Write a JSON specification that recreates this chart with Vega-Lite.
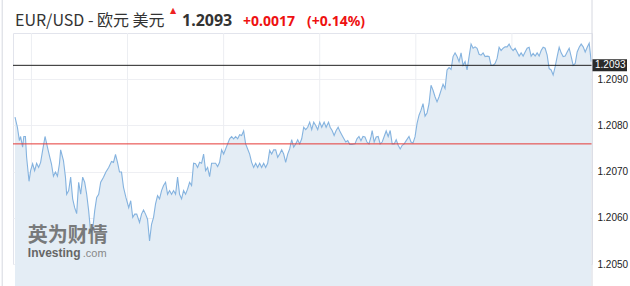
{
  "$schema": "https://vega.github.io/schema/vega-lite/v6.json",
  "width": 579,
  "height": 231,
  "autosize": "none",
  "padding": {"left": 13, "top": 33, "right": 38, "bottom": 22},
  "background": "#ffffff",
  "config": {
    "view": {"stroke": "#e2e4ec"},
    "axis": {"gridColor": "#eeeff3", "domain": false, "ticks": false, "labelFont": "Liberation Sans", "labelColor": "#222"}
  },
  "data": {"values": [
    {"t":"2021-01-18T15:19","v":1.20818},{"t":"2021-01-18T15:25","v":1.20796},{"t":"2021-01-18T15:30","v":1.20767},{"t":"2021-01-18T15:33","v":1.20776},{"t":"2021-01-18T15:38","v":1.20753},{"t":"2021-01-18T15:41","v":1.20776},{"t":"2021-01-18T15:45","v":1.20776},{"t":"2021-01-18T15:48","v":1.20731},{"t":"2021-01-18T15:54","v":1.20679},{"t":"2021-01-18T15:58","v":1.20702},
    {"t":"2021-01-18T16:03","v":1.20717},{"t":"2021-01-18T16:08","v":1.20702},{"t":"2021-01-18T16:13","v":1.20718},{"t":"2021-01-18T16:18","v":1.20709},{"t":"2021-01-18T16:23","v":1.20720},{"t":"2021-01-18T16:28","v":1.20746},{"t":"2021-01-18T16:34","v":1.20776},{"t":"2021-01-18T16:40","v":1.20753},{"t":"2021-01-18T16:46","v":1.20731},{"t":"2021-01-18T16:50","v":1.20717},{"t":"2021-01-18T16:55","v":1.20690},
    {"t":"2021-01-18T17:00","v":1.20699},{"t":"2021-01-18T17:05","v":1.20690},{"t":"2021-01-18T17:10","v":1.20717},{"t":"2021-01-18T17:13","v":1.20747},{"t":"2021-01-18T17:20","v":1.20724},{"t":"2021-01-18T17:25","v":1.20688},{"t":"2021-01-18T17:28","v":1.20651},{"t":"2021-01-18T17:33","v":1.20659},{"t":"2021-01-18T17:38","v":1.20688},{"t":"2021-01-18T17:43","v":1.20641},{"t":"2021-01-18T17:48","v":1.20622},{"t":"2021-01-18T17:53","v":1.20609},{"t":"2021-01-18T17:58","v":1.20677},
    {"t":"2021-01-18T18:03","v":1.20651},{"t":"2021-01-18T18:08","v":1.20688},{"t":"2021-01-18T18:13","v":1.20677},{"t":"2021-01-18T18:18","v":1.20651},{"t":"2021-01-18T18:23","v":1.20615},{"t":"2021-01-18T18:28","v":1.20568},{"t":"2021-01-18T18:33","v":1.20575},{"t":"2021-01-18T18:38","v":1.20615},{"t":"2021-01-18T18:43","v":1.20644},{"t":"2021-01-18T18:48","v":1.20651},{"t":"2021-01-18T18:53","v":1.20677},
    {"t":"2021-01-18T19:00","v":1.20688},{"t":"2021-01-18T19:06","v":1.20699},{"t":"2021-01-18T19:13","v":1.20709},{"t":"2021-01-18T19:20","v":1.20722},{"t":"2021-01-18T19:25","v":1.20720},{"t":"2021-01-18T19:30","v":1.20737},{"t":"2021-01-18T19:35","v":1.20720},{"t":"2021-01-18T19:40","v":1.20699},{"t":"2021-01-18T19:45","v":1.20699},{"t":"2021-01-18T19:50","v":1.20666},{"t":"2021-01-18T19:56","v":1.20644},
    {"t":"2021-01-18T20:03","v":1.20622},{"t":"2021-01-18T20:08","v":1.20637},{"t":"2021-01-18T20:13","v":1.20601},{"t":"2021-01-18T20:18","v":1.20608},{"t":"2021-01-18T20:23","v":1.20608},{"t":"2021-01-18T20:30","v":1.20590},{"t":"2021-01-18T20:35","v":1.20608},{"t":"2021-01-18T20:40","v":1.20617},{"t":"2021-01-18T20:45","v":1.20608},{"t":"2021-01-18T20:50","v":1.20597},{"t":"2021-01-18T20:55","v":1.20550},
    {"t":"2021-01-18T21:00","v":1.20586},{"t":"2021-01-18T21:05","v":1.20601},{"t":"2021-01-18T21:10","v":1.20630},{"t":"2021-01-18T21:15","v":1.20648},{"t":"2021-01-18T21:20","v":1.20641},{"t":"2021-01-18T21:25","v":1.20659},{"t":"2021-01-18T21:30","v":1.20670},{"t":"2021-01-18T21:35","v":1.20677},{"t":"2021-01-18T21:40","v":1.20651},{"t":"2021-01-18T21:45","v":1.20659},{"t":"2021-01-18T21:50","v":1.20651},{"t":"2021-01-18T21:55","v":1.20659},
    {"t":"2021-01-18T22:00","v":1.20651},{"t":"2021-01-18T22:05","v":1.20688},{"t":"2021-01-18T22:10","v":1.20651},{"t":"2021-01-18T22:15","v":1.20641},{"t":"2021-01-18T22:20","v":1.20659},{"t":"2021-01-18T22:25","v":1.20651},{"t":"2021-01-18T22:30","v":1.20662},{"t":"2021-01-18T22:35","v":1.20677},{"t":"2021-01-18T22:40","v":1.20670},{"t":"2021-01-18T22:45","v":1.20718},{"t":"2021-01-18T22:50","v":1.20717},{"t":"2021-01-18T22:55","v":1.20709},
    {"t":"2021-01-18T23:00","v":1.20720},{"t":"2021-01-18T23:05","v":1.20718},{"t":"2021-01-18T23:10","v":1.20738},{"t":"2021-01-18T23:15","v":1.20702},{"t":"2021-01-18T23:20","v":1.20709},{"t":"2021-01-18T23:25","v":1.20689},{"t":"2021-01-18T23:30","v":1.20718},{"t":"2021-01-18T23:35","v":1.20718},{"t":"2021-01-18T23:40","v":1.20718},{"t":"2021-01-18T23:45","v":1.20711},{"t":"2021-01-18T23:50","v":1.20720},{"t":"2021-01-18T23:55","v":1.20747},
    {"t":"2021-01-19T00:00","v":1.20738},{"t":"2021-01-19T00:05","v":1.20749},{"t":"2021-01-19T00:10","v":1.20760},{"t":"2021-01-19T00:15","v":1.20771},{"t":"2021-01-19T00:20","v":1.20776},{"t":"2021-01-19T00:25","v":1.20771},{"t":"2021-01-19T00:30","v":1.20776},{"t":"2021-01-19T00:35","v":1.20771},{"t":"2021-01-19T00:40","v":1.20780},{"t":"2021-01-19T00:45","v":1.20778},{"t":"2021-01-19T00:50","v":1.20788},{"t":"2021-01-19T00:55","v":1.20760},
    {"t":"2021-01-19T01:00","v":1.20749},{"t":"2021-01-19T01:05","v":1.20738},{"t":"2021-01-19T01:10","v":1.20720},{"t":"2021-01-19T01:15","v":1.20709},{"t":"2021-01-19T01:20","v":1.20718},{"t":"2021-01-19T01:25","v":1.20709},{"t":"2021-01-19T01:30","v":1.20718},{"t":"2021-01-19T01:35","v":1.20709},{"t":"2021-01-19T01:40","v":1.20718},{"t":"2021-01-19T01:45","v":1.20709},{"t":"2021-01-19T01:50","v":1.20718},{"t":"2021-01-19T01:55","v":1.20746},
    {"t":"2021-01-19T02:00","v":1.20738},{"t":"2021-01-19T02:05","v":1.20747},{"t":"2021-01-19T02:10","v":1.20747},{"t":"2021-01-19T02:15","v":1.20731},{"t":"2021-01-19T02:20","v":1.20738},{"t":"2021-01-19T02:25","v":1.20747},{"t":"2021-01-19T02:30","v":1.20738},{"t":"2021-01-19T02:35","v":1.20720},{"t":"2021-01-19T02:40","v":1.20738},{"t":"2021-01-19T02:45","v":1.20749},{"t":"2021-01-19T02:50","v":1.20769},{"t":"2021-01-19T02:55","v":1.20753},
    {"t":"2021-01-19T03:00","v":1.20760},{"t":"2021-01-19T03:05","v":1.20769},{"t":"2021-01-19T03:10","v":1.20760},{"t":"2021-01-19T03:15","v":1.20771},{"t":"2021-01-19T03:20","v":1.20796},{"t":"2021-01-19T03:25","v":1.20791},{"t":"2021-01-19T03:30","v":1.20796},{"t":"2021-01-19T03:35","v":1.20807},{"t":"2021-01-19T03:40","v":1.20791},{"t":"2021-01-19T03:45","v":1.20807},{"t":"2021-01-19T03:50","v":1.20800},{"t":"2021-01-19T03:55","v":1.20791},
    {"t":"2021-01-19T04:00","v":1.20807},{"t":"2021-01-19T04:05","v":1.20796},{"t":"2021-01-19T04:11","v":1.20807},{"t":"2021-01-19T04:16","v":1.20796},{"t":"2021-01-19T04:22","v":1.20807},{"t":"2021-01-19T04:26","v":1.20796},{"t":"2021-01-19T04:31","v":1.20789},{"t":"2021-01-19T04:36","v":1.20778},{"t":"2021-01-19T04:41","v":1.20789},{"t":"2021-01-19T04:46","v":1.20796},{"t":"2021-01-19T04:51","v":1.20786},{"t":"2021-01-19T04:58","v":1.20775},
    {"t":"2021-01-19T05:05","v":1.20764},{"t":"2021-01-19T05:10","v":1.20767},{"t":"2021-01-19T05:15","v":1.20759},{"t":"2021-01-19T05:21","v":1.20759},{"t":"2021-01-19T05:28","v":1.20760},{"t":"2021-01-19T05:33","v":1.20771},{"t":"2021-01-19T05:38","v":1.20776},{"t":"2021-01-19T05:43","v":1.20767},{"t":"2021-01-19T05:48","v":1.20776},{"t":"2021-01-19T05:53","v":1.20775},{"t":"2021-01-19T05:58","v":1.20764},
    {"t":"2021-01-19T06:03","v":1.20760},{"t":"2021-01-19T06:08","v":1.20775},{"t":"2021-01-19T06:11","v":1.20789},{"t":"2021-01-19T06:16","v":1.20764},{"t":"2021-01-19T06:21","v":1.20775},{"t":"2021-01-19T06:26","v":1.20776},{"t":"2021-01-19T06:31","v":1.20760},{"t":"2021-01-19T06:36","v":1.20764},{"t":"2021-01-19T06:41","v":1.20776},{"t":"2021-01-19T06:46","v":1.20788},{"t":"2021-01-19T06:51","v":1.20776},{"t":"2021-01-19T06:56","v":1.20789},
    {"t":"2021-01-19T07:01","v":1.20760},{"t":"2021-01-19T07:06","v":1.20760},{"t":"2021-01-19T07:11","v":1.20769},{"t":"2021-01-19T07:16","v":1.20757},{"t":"2021-01-19T07:21","v":1.20749},{"t":"2021-01-19T07:26","v":1.20757},{"t":"2021-01-19T07:31","v":1.20760},{"t":"2021-01-19T07:36","v":1.20767},{"t":"2021-01-19T07:43","v":1.20776},{"t":"2021-01-19T07:48","v":1.20764},{"t":"2021-01-19T07:53","v":1.20762},{"t":"2021-01-19T07:58","v":1.20775},
    {"t":"2021-01-19T08:03","v":1.20804},{"t":"2021-01-19T08:08","v":1.20822},{"t":"2021-01-19T08:13","v":1.20833},{"t":"2021-01-19T08:18","v":1.20847},{"t":"2021-01-19T08:23","v":1.20820},{"t":"2021-01-19T08:28","v":1.20827},{"t":"2021-01-19T08:33","v":1.20847},{"t":"2021-01-19T08:38","v":1.20887},{"t":"2021-01-19T08:43","v":1.20876},{"t":"2021-01-19T08:48","v":1.20862},{"t":"2021-01-19T08:53","v":1.20851},{"t":"2021-01-19T08:58","v":1.20862},
    {"t":"2021-01-19T09:03","v":1.20876},{"t":"2021-01-19T09:08","v":1.20889},{"t":"2021-01-19T09:13","v":1.20880},{"t":"2021-01-19T09:18","v":1.20920},{"t":"2021-01-19T09:23","v":1.20925},{"t":"2021-01-19T09:28","v":1.20921},{"t":"2021-01-19T09:33","v":1.20949},{"t":"2021-01-19T09:38","v":1.20957},{"t":"2021-01-19T09:43","v":1.20949},{"t":"2021-01-19T09:48","v":1.20938},{"t":"2021-01-19T09:53","v":1.20957},{"t":"2021-01-19T09:58","v":1.20930},
    {"t":"2021-01-19T10:03","v":1.20938},{"t":"2021-01-19T10:08","v":1.20920},{"t":"2021-01-19T10:13","v":1.20949},{"t":"2021-01-19T10:18","v":1.20976},{"t":"2021-01-19T10:23","v":1.20967},{"t":"2021-01-19T10:28","v":1.20970},{"t":"2021-01-19T10:33","v":1.20967},{"t":"2021-01-19T10:38","v":1.20954},{"t":"2021-01-19T10:43","v":1.20952},{"t":"2021-01-19T10:48","v":1.20957},{"t":"2021-01-19T10:53","v":1.20949},{"t":"2021-01-19T10:58","v":1.20950},
    {"t":"2021-01-19T11:03","v":1.20949},{"t":"2021-01-19T11:08","v":1.20930},{"t":"2021-01-19T11:13","v":1.20930},{"t":"2021-01-19T11:18","v":1.20934},{"t":"2021-01-19T11:23","v":1.20945},{"t":"2021-01-19T11:28","v":1.20969},{"t":"2021-01-19T11:33","v":1.20962},{"t":"2021-01-19T11:38","v":1.20967},{"t":"2021-01-19T11:43","v":1.20970},{"t":"2021-01-19T11:48","v":1.20970},{"t":"2021-01-19T11:53","v":1.20976},{"t":"2021-01-19T11:58","v":1.20967},
    {"t":"2021-01-19T12:03","v":1.20962},{"t":"2021-01-19T12:08","v":1.20967},{"t":"2021-01-19T12:13","v":1.20959},{"t":"2021-01-19T12:18","v":1.20950},{"t":"2021-01-19T12:23","v":1.20957},{"t":"2021-01-19T12:28","v":1.20950},{"t":"2021-01-19T12:33","v":1.20959},{"t":"2021-01-19T12:38","v":1.20967},{"t":"2021-01-19T12:43","v":1.20969},{"t":"2021-01-19T12:48","v":1.20950},{"t":"2021-01-19T12:53","v":1.20956},{"t":"2021-01-19T12:58","v":1.20950},
    {"t":"2021-01-19T13:03","v":1.20957},{"t":"2021-01-19T13:08","v":1.20950},{"t":"2021-01-19T13:13","v":1.20962},{"t":"2021-01-19T13:18","v":1.20969},{"t":"2021-01-19T13:23","v":1.20967},{"t":"2021-01-19T13:28","v":1.20952},{"t":"2021-01-19T13:33","v":1.20923},{"t":"2021-01-19T13:38","v":1.20920},{"t":"2021-01-19T13:43","v":1.20909},{"t":"2021-01-19T13:48","v":1.20927},{"t":"2021-01-19T13:53","v":1.20949},{"t":"2021-01-19T13:58","v":1.20969},
    {"t":"2021-01-19T14:03","v":1.20957},{"t":"2021-01-19T14:08","v":1.20949},{"t":"2021-01-19T14:13","v":1.20950},{"t":"2021-01-19T14:18","v":1.20959},{"t":"2021-01-19T14:23","v":1.20967},{"t":"2021-01-19T14:28","v":1.20949},{"t":"2021-01-19T14:33","v":1.20930},{"t":"2021-01-19T14:38","v":1.20934},{"t":"2021-01-19T14:43","v":1.20959},{"t":"2021-01-19T14:48","v":1.20969},{"t":"2021-01-19T14:53","v":1.20976},{"t":"2021-01-19T14:58","v":1.20970},
    {"t":"2021-01-19T15:03","v":1.20959},{"t":"2021-01-19T15:08","v":1.20969},{"t":"2021-01-19T15:13","v":1.20978},{"t":"2021-01-19T15:18","v":1.20938}
  ]},
  "encoding": {
    "x": {
      "field": "t", "type": "temporal",
      "scale": {"domain": [{"year": 2021, "month": 1, "date": 18, "hours": 15, "minutes": 14}, {"year": 2021, "month": 1, "date": 19, "hours": 15, "minutes": 20}], "nice": false},
      "axis": null
    },
    "y": {
      "field": "v", "type": "quantitative",
      "scale": {"domain": [1.205, 1.21], "nice": false, "zero": false},
      "axis": {"title": null, "orient": "right", "values": [1.205, 1.206, 1.207, 1.208, 1.209], "format": ".4f", "labelFontSize": 10, "labelPadding": 5, "labelBaseline": "middle"}
    }
  },
  "layer": [
    {
      "data": {"values": [
        {"t": "2021-01-18T16:00", "v": 1.205, "label": "16:00"},
        {"t": "2021-01-18T20:00", "v": 1.205, "label": "20:00"},
        {"t": "2021-01-19T00:00", "v": 1.205, "label": "Jan 19"},
        {"t": "2021-01-19T04:00", "v": 1.205, "label": "04:00"},
        {"t": "2021-01-19T08:00", "v": 1.205, "label": "08:00"},
        {"t": "2021-01-19T12:00", "v": 1.205, "label": "12:00"}
      ]},
      "layer": [
        {"mark": {"type": "rule", "color": "#eceef2", "strokeWidth": 1}, "encoding": {"y": {"datum": 1.21}, "y2": {"datum": 1.205}}},
        {"mark": {"type": "text", "align": "center", "baseline": "alphabetic", "dy": 21, "font": "Liberation Sans", "fontSize": 11, "color": "#222222"}, "encoding": {"text": {"field": "label"}}}
      ]
    },
    {"mark": {"type": "area", "fill": "#e4edf5", "opacity": 1}},
    {"mark": {"type": "line", "stroke": "#85b3df", "strokeWidth": 1.1}},
    {
      "data": {"values": [
        {"t": "2021-01-18T15:14", "t2": "2021-01-19T15:20", "v": 1.2093, "kind": "last"},
        {"t": "2021-01-18T15:14", "t2": "2021-01-19T15:20", "v": 1.2076, "kind": "prev"}
      ]},
      "mark": {"type": "rule", "strokeWidth": 1},
      "encoding": {
        "x2": {"field": "t2"},
        "color": {"field": "kind", "type": "nominal", "scale": {"domain": ["last", "prev"], "range": ["#222222", "#e53935"]}, "legend": null}
      }
    },
    {
      "data": {"values": [{"t": "2021-01-18T15:51", "v": 1.20548, "label": "英为财情"}]},
      "mark": {"type": "text", "align": "left", "baseline": "alphabetic", "font": "Noto Sans CJK SC", "fontSize": 20, "fontWeight": "bold", "color": "#666666", "opacity": 0.85},
      "encoding": {"text": {"field": "label"}}
    },
    {
      "data": {"values": [{"t": "2021-01-18T15:51", "v": 1.20516, "label": "Investing"}]},
      "mark": {"type": "text", "align": "left", "baseline": "alphabetic", "font": "Liberation Sans", "fontSize": 12, "fontWeight": "bold", "color": "#666666"},
      "encoding": {"text": {"field": "label"}}
    },
    {
      "data": {"values": [{"t": "2021-01-18T15:51", "v": 1.20516, "label": ".com"}]},
      "mark": {"type": "text", "align": "left", "baseline": "alphabetic", "font": "Liberation Sans", "fontSize": 11, "color": "#888888", "dx": 55},
      "encoding": {"text": {"field": "label"}}
    },
    {
      "data": {"values": [{"t": "2021-01-19T15:20", "v": 1.2093, "label": "1.2093"}]},
      "layer": [
        {"mark": {"type": "tick", "orient": "horizontal", "size": 35, "thickness": 12, "color": "#2a2a2a", "opacity": 1, "xOffset": 17.5}},
        {"mark": {"type": "text", "align": "left", "baseline": "middle", "dx": 3, "font": "Liberation Sans", "fontSize": 10, "color": "#ffffff"}, "encoding": {"text": {"field": "label"}}}
      ]
    },
    {
      "data": {"values": [{"t": "2021-01-18T15:14", "v": 1.21, "label": "EUR/USD - 欧元 美元"}]},
      "mark": {"type": "text", "align": "left", "baseline": "alphabetic", "dx": 2, "dy": -7, "font": "Noto Sans CJK SC", "fontSize": 16, "color": "#333333"},
      "encoding": {"text": {"field": "label"}}
    },
    {
      "data": {"values": [{"t": "2021-01-18T15:14", "v": 1.21, "label": "▲"}]},
      "mark": {"type": "text", "align": "center", "baseline": "alphabetic", "dx": 160, "dy": -20, "font": "DejaVu Sans", "fontSize": 8, "color": "#ee2222"},
      "encoding": {"text": {"field": "label"}}
    },
    {
      "data": {"values": [{"t": "2021-01-18T15:14", "v": 1.21, "label": "1.2093"}]},
      "mark": {"type": "text", "align": "left", "baseline": "alphabetic", "dx": 169, "dy": -7, "font": "Noto Sans", "fontSize": 16, "fontWeight": "bold", "color": "#333333"},
      "encoding": {"text": {"field": "label"}}
    },
    {
      "data": {"values": [{"t": "2021-01-18T15:14", "v": 1.21, "label": "+0.0017"}]},
      "mark": {"type": "text", "align": "left", "baseline": "alphabetic", "dx": 230, "dy": -7, "font": "Noto Sans", "fontSize": 14, "fontWeight": "bold", "color": "#ee1111"},
      "encoding": {"text": {"field": "label"}}
    },
    {
      "data": {"values": [{"t": "2021-01-18T15:14", "v": 1.21, "label": "(+0.14%)"}]},
      "mark": {"type": "text", "align": "left", "baseline": "alphabetic", "dx": 294, "dy": -7, "font": "Noto Sans", "fontSize": 14, "fontWeight": "bold", "color": "#ee1111"},
      "encoding": {"text": {"field": "label"}}
    },
    {
      "data": {"values": [{"t": "2021-01-18T14:47", "v": 1.2108, "v2": 1.2045}, {"t": "2021-01-19T15:20", "v": 1.2108, "v2": 1.2045}]},
      "mark": {"type": "rule", "color": "#d6d8e0", "strokeWidth": 1},
      "encoding": {"y2": {"field": "v2"}}
    }
  ]
}
